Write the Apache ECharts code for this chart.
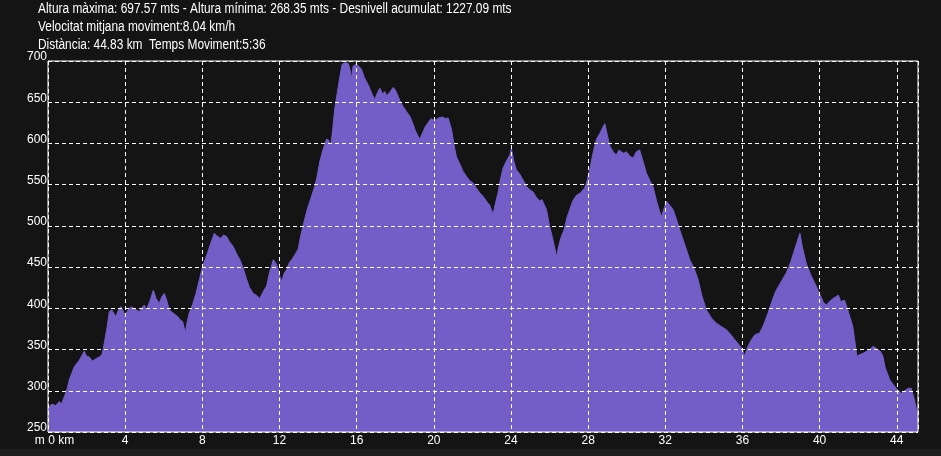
<!DOCTYPE html>
<html>
<head>
<meta charset="utf-8">
<script src="https://cdn.jsdelivr.net/npm/echarts@6/dist/echarts.min.js"></script>
<style>
html,body{margin:0;padding:0;background:#141414;}
#chart{width:941px;height:456px;}
</style>
</head>
<body>
<div id="chart"></div>
<script>
const titleLines = [
  "Altura màxima: 697.57 mts - Altura mínima: 268.35 mts - Desnivell acumulat: 1227.09 mts",
  "Velocitat mitjana moviment:8.04 km/h",
  "Distància: 44.83 km  Temps Moviment:5:36"
];
const yUnitLabel = "m";
const xUnitLabel = "km";
const yMin = 250, yMax = 700, yStep = 50;
const xMin = 0, xMax = 45.1, xStep = 4;

const distanceKm = [
0.0,0.07,0.2,0.4,0.59,0.7,0.85,1.0,1.1,1.36,1.62,1.88,2.0,2.14,2.3,2.5,2.66,2.8,2.92,3.05,
3.18,3.3,3.52,3.65,3.78,4.0,4.15,4.3,4.5,4.73,4.85,4.99,5.1,5.3,5.46,5.6,5.77,5.9,6.03,6.15,
6.29,6.5,6.72,6.85,6.98,7.12,7.2,7.32,7.5,7.67,7.85,8.01,8.27,8.45,8.62,8.8,8.96,9.1,9.26,9.4,
9.6,9.8,9.95,10.1,10.3,10.45,10.64,10.8,10.98,11.15,11.33,11.5,11.68,11.8,11.9,12.0,12.11,12.25,12.37,12.5,
12.63,12.8,12.97,13.1,13.23,13.35,13.49,13.65,13.83,13.95,14.09,14.25,14.44,14.55,14.65,14.75,14.87,15.0,15.13,15.25,
15.4,15.56,15.65,15.73,15.82,15.99,16.1,16.25,16.4,16.6,16.8,16.94,17.05,17.2,17.35,17.46,17.55,17.72,17.89,18.0,
18.1,18.24,18.4,18.6,18.76,18.9,19.05,19.27,19.4,19.55,19.7,19.85,20.05,20.25,20.48,20.6,20.74,20.92,21.05,21.17,
21.35,21.52,21.7,21.85,22.04,22.2,22.38,22.55,22.73,22.9,23.07,23.2,23.33,23.45,23.59,23.75,23.94,24.02,24.15,24.28,
24.45,24.62,24.8,24.97,25.15,25.3,25.49,25.6,25.84,26.0,26.18,26.36,26.5,26.61,26.75,26.9,27.05,27.2,27.39,27.6,
27.82,27.95,28.08,28.25,28.43,28.6,28.75,28.86,28.95,29.12,29.3,29.46,29.6,29.72,29.85,29.98,30.15,30.33,30.5,30.67,
30.85,31.02,31.2,31.36,31.55,31.7,31.8,31.95,32.06,32.2,32.4,32.55,32.75,33.0,33.27,33.5,33.7,33.9,34.13,34.4,
34.65,34.9,35.17,35.4,35.6,35.85,36.0,36.11,36.25,36.46,36.65,36.89,37.1,37.32,37.55,37.75,38.0,38.27,38.5,38.7,
38.85,38.98,39.1,39.3,39.55,39.82,40.05,40.2,40.36,40.5,40.7,40.97,41.1,41.29,41.5,41.72,41.93,42.1,42.3,42.59,
42.79,42.9,43.02,43.15,43.28,43.4,43.64,43.8,43.97,44.1,44.25,44.4,44.6,44.75,44.9,45.03,45.1
];
const elevationM = [
279,277,284,282,287,284,293,303,313,329,337,348,342,341,336,339,341,344,358,375,
396,398,390,398,402,392,398,402,399,396,400,404,398,410,422,412,406,414,418,410,
398,394,390,386,384,370,382,394,405,418,435,451,467,480,491,487,485,489,487,481,
475,465,459,450,435,425,418,416,412,420,427,445,459,455,450,440,433,443,447,455,
459,465,472,488,501,512,524,535,548,560,578,592,605,604,596,615,643,662,681,696,
698,697,690,679,694,696,694,690,680,671,660,653,660,667,660,663,658,662,668,665,
660,652,645,638,633,625,615,605,612,620,625,630,628,631,632,630,631,617,598,584,
575,566,560,555,552,546,540,536,530,525,514,528,540,556,570,578,586,594,578,568,
563,556,548,544,541,535,530,532,520,500,483,463,478,487,495,510,520,530,537,540,
546,555,568,588,605,612,619,624,615,597,590,586,592,590,588,590,585,582,590,592,
578,564,555,548,530,518,511,522,530,526,520,510,495,478,459,448,435,415,398,388,
382,378,374,368,362,355,350,342,352,362,368,370,380,394,410,422,432,443,456,471,
482,491,475,455,440,427,415,407,404,408,412,416,408,410,395,378,342,344,346,350,
354,352,350,348,342,328,313,308,303,300,297,300,303,303,290,277,270
];

const seriesData = distanceKm.map((d, i) => [d, elevationM[i]]);

const chart = echarts.init(document.getElementById('chart'), null, {renderer: 'canvas'});
const labelFont = 'Liberation Sans, Arial, sans-serif';

chart.setOption({
  backgroundColor: '#141414',
  animation: false,
  grid: {
    left: 48, top: 61, right: 23, bottom: 24,
    show: true, borderColor: '#ffffff', borderWidth: 1, backgroundColor: 'transparent',
    z: 5
  },
  xAxis: {
    type: 'value', min: xMin, max: xMax, interval: xStep,
    axisLine: {show: false}, axisTick: {show: false},
    splitLine: {show: true, lineStyle: {color: '#ffffff', width: 1, type: [4, 3]}},
    axisLabel: {
      color: '#ffffff', fontSize: 12, fontFamily: labelFont, margin: 3,
      showMinLabel: true, showMaxLabel: true,
      formatter: function (v) {
        if (v === 0) return '{z|' + yUnitLabel + ' 0 ' + xUnitLabel + '}';
        if (Math.abs(v % xStep) > 1e-6) return '';
        return String(v);
      },
      rich: {z: {color: '#ffffff', fontSize: 12, fontFamily: labelFont, padding: [0, 0, 0, 13]}}
    },
    z: 3
  },
  yAxis: {
    type: 'value', min: yMin, max: yMax, interval: yStep,
    axisLine: {show: false}, axisTick: {show: false},
    splitLine: {show: true, lineStyle: {color: '#ffffff', width: 1, type: [4, 3]}},
    axisLabel: {
      color: '#ffffff', fontSize: 12, fontFamily: labelFont, margin: 1,
      verticalAlign: 'bottom', lineHeight: 8,
      showMinLabel: true, showMaxLabel: true
    },
    z: 3
  },
  series: [{
    type: 'line',
    data: seriesData,
    showSymbol: false,
    symbol: 'none',
    smooth: false,
    lineStyle: {color: '#735dc6', width: 1},
    areaStyle: {color: '#735dc6', opacity: 1},
    z: 1,
    silent: true
  }],
  graphic: titleLines.map((t, i) => ({
    type: 'text',
    x: 38, y: 2 + i * 18,
    scaleX: 0.85,
    style: {text: t, fill: '#ffffff', font: '14px ' + labelFont}
  })).concat([
    {type: 'rect', shape: {x: 0, y: 449, width: 941, height: 7}, style: {fill: '#1e1e1e'}, z: -1}
  ])
});
</script>
</body>
</html>
